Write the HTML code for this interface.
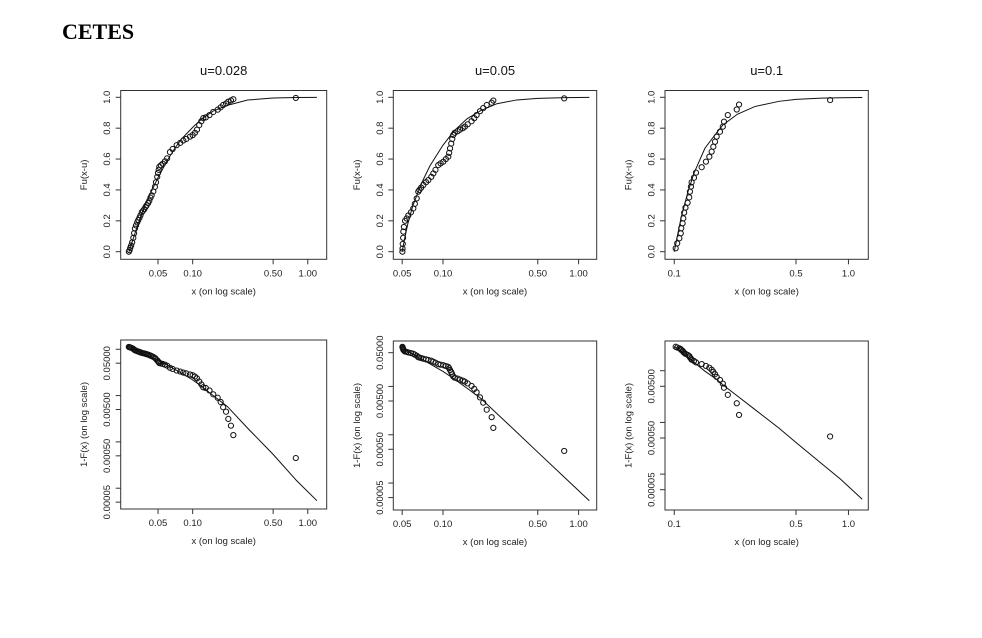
<!DOCTYPE html>
<html><head><meta charset="utf-8"><title>CETES</title>
<style>
html,body{margin:0;padding:0;background:#fff;}
svg{display:block;font-family:"Liberation Sans",Arial,sans-serif;}
.tk{font-size:9.5px;fill:#222;}
.ttl{font-size:9.5px;fill:#222;}
</style></head>
<body>
<svg id="fig" width="982" height="638" viewBox="0 0 982 638" xmlns="http://www.w3.org/2000/svg">
<rect x="0" y="0" width="982" height="638" fill="#fff"/>
<text x="62" y="39" font-family="Liberation Serif, serif" font-weight="bold" font-size="22" fill="#000">CETES</text>
</svg>
<script>
// ---- data: u = 0.028 ----
const p1X = [0.0279,0.0283,0.0287,0.0292,0.0298,0.0305,0.031,0.0315,0.0322,0.033,0.0337,0.0345,0.0352,0.0361,0.037,0.038,0.039,0.0398,0.041,0.042,0.043,0.044,0.0455,0.047,0.048,0.0492,0.05,0.0507,0.0513,0.053,0.055,0.0574,0.06,0.0635,0.067,0.0726,0.078,0.0829,0.088,0.0948,0.1,0.1047,0.109,0.114,0.119,0.1236,0.13,0.14,0.151,0.165,0.175,0.184,0.195,0.204,0.215,0.2255,0.787];
const p1F = [0,0.01,0.025,0.04,0.06,0.09,0.12,0.15,0.17,0.19,0.205,0.22,0.235,0.255,0.265,0.275,0.29,0.30,0.315,0.33,0.35,0.365,0.39,0.42,0.45,0.485,0.51,0.53,0.55,0.56,0.57,0.585,0.605,0.645,0.665,0.69,0.705,0.72,0.73,0.745,0.755,0.77,0.79,0.82,0.845,0.865,0.87,0.885,0.905,0.92,0.935,0.95,0.96,0.972,0.98,0.9875,0.996];
const p1CurveX = [0.028,0.03,0.035,0.04,0.05,0.06,0.07,0.08,0.1,0.12,0.15,0.2,0.3,0.5,0.8,1.2];
const p1CurveS = [1,0.93,0.78,0.67,0.52,0.41,0.33,0.27,0.195,0.14,0.09,0.052,0.0177,0.0048,0.0013,0.00048];
const p1Tail = 0.112;
// ---- data: u = 0.05 ----
const p2X = [0.0502,0.0503,0.0505,0.0508,0.051,0.0515,0.0525,0.054,0.0555,0.058,0.0604,0.062,0.064,0.0657,0.067,0.069,0.0716,0.075,0.078,0.082,0.0849,0.088,0.0923,0.096,0.1005,0.105,0.1094,0.111,0.1127,0.115,0.117,0.119,0.122,0.128,0.1334,0.14,0.145,0.152,0.1625,0.17,0.177,0.1874,0.198,0.21,0.2285,0.235,0.783];
const p2F = [0,0.02,0.05,0.09,0.13,0.16,0.2,0.215,0.235,0.255,0.28,0.31,0.345,0.389,0.40,0.415,0.432,0.45,0.464,0.485,0.507,0.53,0.561,0.572,0.583,0.60,0.615,0.64,0.669,0.70,0.73,0.756,0.77,0.78,0.79,0.80,0.81,0.825,0.845,0.865,0.885,0.91,0.93,0.95,0.965,0.979,0.993];
const p2CurveX = [0.05,0.052,0.055,0.06,0.07,0.08,0.1,0.12,0.15,0.19,0.25,0.35,0.5,0.8,1.2];
const p2CurveS = [1,0.92,0.82,0.70,0.55,0.445,0.31,0.22,0.14,0.086,0.0415,0.0171,0.0066,0.0019,0.00065];
const p2Tail = 0.066;
// ---- data: u = 0.1 ----
const p3X = [0.1019,0.104,0.107,0.109,0.1097,0.1117,0.1127,0.114,0.116,0.1193,0.1219,0.123,0.1247,0.1258,0.1298,0.1333,0.1437,0.152,0.159,0.164,0.1676,0.1714,0.1752,0.183,0.19,0.193,0.203,0.2285,0.2355,0.785];
const p3F = [0.022,0.054,0.087,0.119,0.152,0.184,0.216,0.253,0.285,0.317,0.352,0.389,0.421,0.449,0.479,0.512,0.547,0.583,0.615,0.648,0.68,0.712,0.745,0.777,0.81,0.842,0.885,0.921,0.953,0.982];
const p3CurveX = [0.1,0.105,0.11,0.12,0.13,0.15,0.175,0.19,0.23,0.29,0.4,0.5,0.7,0.9,1.2];
const p3CurveS = [1,0.88,0.77,0.61,0.49,0.33,0.23,0.18,0.11,0.06,0.026,0.0138,0.0054,0.0027,0.0011];
const p3Tail = 0.0297;

const topTitles = ["u=0.028","u=0.05","u=0.1"];
const xTickVals12 = [0.05,0.1,0.5,1];
const xTickLbl12 = ["0.05","0.10","0.50","1.00"];
const xTickVals3 = [0.1,0.5,1];
const xTickLbl3 = ["0.1","0.5","1.0"];
const yTickVals = [0,0.2,0.4,0.6,0.8,1];
const yTickLbl = ["0.0","0.2","0.4","0.6","0.8","1.0"];
const tailMinorTicks = [0.1,0.01,0.001,0.0001];
const tailTickVals = [0.05,0.005,0.0005,0.00005];
const tailTickLbl = ["0.05000","0.00500","0.00050","0.00005"];

const NS = "http://www.w3.org/2000/svg";
const svg = document.getElementById('fig');
function mk(tag, attrs, parent){
  const e = document.createElementNS(NS, tag);
  for (const k in attrs) e.setAttribute(k, attrs[k]);
  (parent||svg).appendChild(e);
  return e;
}
const L10 = Math.log10;

const cols = [
  {l:120.7, r:326.7, xmin:L10(0.0237), xmax:L10(1.46), ticks:xTickVals12, lbl:xTickLbl12, X:p1X, F:p1F, CX:p1CurveX, CS:p1CurveS, tail:p1Tail, bt:[340,509], blog:[-0.80,-4.449]},
  {l:393.3, r:596.7, xmin:L10(0.043), xmax:L10(1.36), ticks:xTickVals12, lbl:xTickLbl12, X:p2X, F:p2F, CX:p2CurveX, CS:p2CurveS, tail:p2Tail, bt:[341,510], blog:[-1.059,-4.558]},
  {l:665, r:868.3, xmin:L10(0.0885), xmax:L10(1.30), ticks:xTickVals3, lbl:xTickLbl3, X:p3X, F:p3F, CX:p3CurveX, CS:p3CurveS, tail:p3Tail, bt:[341,510], blog:[-1.425,-4.694]}
];

function drawPanel(c, i, row){
  const g = mk('g', {});
  
  
  const top = row===0 ? 90.5 : c.bt[0];
  const bot = row===0 ? 259.3 : c.bt[1];
  const xs = v => c.l + (L10(v)-c.xmin)/(c.xmax-c.xmin)*(c.r-c.l);
  let ys;
  if (row===0){ ys = v => 251.7 - v*154.4; }
  else { ys = v => top + (c.blog[0]-L10(v))/(c.blog[0]-c.blog[1])*(bot-top); }
  const box = mk('rect', {x:c.l, y:top, width:c.r-c.l, height:bot-top, fill:'none', stroke:'#333', 'stroke-width':1}, g);
  
  
  const xa = mk('g', {}, g);
  
  
  c.ticks.forEach((t, k) => {
    const px = xs(t);
    mk('line', {x1:px, x2:px, y1:bot, y2:bot+5, stroke:'#333'}, xa);
    const tx = mk('text', {x:px, y:bot+17, 'text-anchor':'middle', class:'tk'}, xa);
    tx.textContent = c.lbl[k];
    
    
  });
  const xt = mk('text', {x:(c.l+c.r)/2, y:bot+35, 'text-anchor':'middle', class:'ttl'}, g);
  xt.textContent = 'x (on log scale)';
  
  
  const ya = mk('g', {}, g);
  
  
  const lx = c.l - 13;
  if (row===0){
    yTickVals.forEach((t, k) => {
      const py = ys(t);
      mk('line', {x1:c.l-5, x2:c.l, y1:py, y2:py, stroke:'#333'}, ya);
      const tx = mk('text', {x:lx, y:py, 'text-anchor':'middle', 'dominant-baseline':'central', class:'tk', transform:`rotate(-90 ${lx} ${py})`}, ya);
      tx.textContent = yTickLbl[k];
      
      
    });
  } else {
    tailMinorTicks.forEach(t => {
      const py = ys(t);
      if (py < top || py > bot) return;
      mk('line', {x1:c.l-5, x2:c.l, y1:py, y2:py, stroke:'#333'}, ya);
    });
    tailTickVals.forEach((t, k) => {
      const py = ys(t);
      if (py < top || py > bot) return;
      mk('line', {x1:c.l-5, x2:c.l, y1:py, y2:py, stroke:'#333'}, ya);
      const tx = mk('text', {x:lx, y:py, 'text-anchor':'middle', 'dominant-baseline':'central', class:'tk', transform:`rotate(-90 ${lx} ${py})`}, ya);
      tx.textContent = tailTickLbl[k];
      
      
    });
  }
  const yx = c.l - 36, yy = (top+bot)/2;
  const yt = mk('text', {x:yx, y:yy, 'text-anchor':'middle', 'dominant-baseline':'central', class:'ttl', transform:`rotate(-90 ${yx} ${yy})`}, g);
  yt.textContent = row===0 ? 'Fu(x-u)' : '1-F(x) (on log scale)';
  
  
  if (row===0){
    const tt = mk('text', {x:(c.l+c.r)/2, y:75, 'text-anchor':'middle', 'font-size':13, fill:'#111'}, g);
    tt.textContent = topTitles[i];
    
    
  }
  let d = '';
  c.CX.forEach((x, k) => {
    const yv = row===0 ? 1 - c.CS[k] : c.tail * c.CS[k];
    d += (k ? 'L' : 'M') + xs(x).toFixed(2) + ' ' + ys(yv).toFixed(2) + ' ';
  });
  const path = mk('path', {d:d, fill:'none', stroke:'#111', 'stroke-width':1}, g);
  
  
  c.X.forEach((x, k) => {
    const yv = row===0 ? c.F[k] : c.tail * (1 - c.F[k]);
    const pt = mk('circle', {cx:xs(x), cy:ys(yv), r:2.6, fill:'none', stroke:'#111', 'stroke-width':1}, g);
    
    
  });
}
cols.forEach((c, i) => { drawPanel(c, i, 0); drawPanel(c, i, 1); });
</script>
</body></html>
